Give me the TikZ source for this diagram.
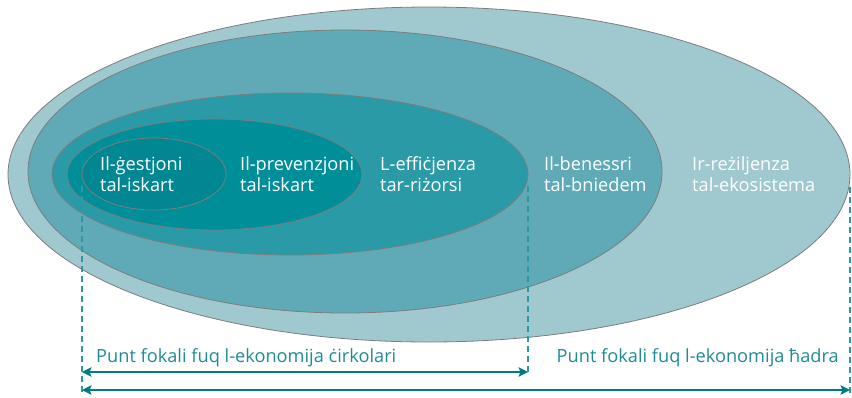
\documentclass[tikz,border=0pt]{standalone}
\usepackage{fontspec}
\setmainfont{Open Sans}
\usepackage{tikz}
\usetikzlibrary{
  arrows.meta,
  positioning,
  calc,
  shapes.geometric
}
\definecolor{resilteal}{RGB}{159,201,207}
\definecolor{wellteal}{RGB}{95,170,182}
\definecolor{efficteal}{RGB}{42,155,166}
\definecolor{preventeal}{RGB}{0,143,153}
\definecolor{wasteteal}{RGB}{0,135,145}
\definecolor{zoneedge}{RGB}{125,125,125}
\definecolor{focusteal}{RGB}{30,140,152}
\definecolor{arrowteal}{RGB}{0,122,132}
\definecolor{guideteal}{RGB}{45,152,163}
\tikzset{
  zone/.style={
    ellipse,
    draw=zoneedge,
    line width=0.8pt,
    inner sep=0pt,
    outer sep=0pt
  },
  zonelabel/.style={
    anchor=west,
    align=left,
    inner sep=0pt,
    text=white,
    font=\fontsize{18.2}{21.5}\selectfont
  },
  focuslabel/.style={inner sep=0pt,text=focusteal,font=\fontsize{18.2}{21.5}\selectfont},
  guideline/.style={draw=guideteal,line width=1.4pt,dash pattern=on 6pt off 4pt},
  focusarrow/.style={
    {Stealth[length=9.5pt,width=9.5pt,inset=2pt]}-{Stealth[length=9.5pt,width=9.5pt,inset=2pt]},
    line width=2.1pt,draw=arrowteal
  },
}

\begin{document}
\begin{tikzpicture}[x=1pt,y=-1pt]
  \useasboundingbox (0,0) rectangle (852,397);
  % Nested zones
  \node[zone,fill=resilteal,minimum width=842,minimum height=335] (resil) at (429,174.5) {};
  \node[zone,fill=wellteal,minimum width=634,minimum height=283] (well) at (345,171.5) {};
  \node[zone,fill=efficteal,minimum width=476,minimum height=162] (effic) at (290,174) {};
  \node[zone,fill=preventeal,minimum width=295,minimum height=111] (preven) at (214.5,174.5) {};
  \node[zone,fill=wasteteal,minimum width=144,minimum height=72] (waste) at (154,174) {};

  \node[zonelabel] (wastetxt) at (100,174) {Il-ġestjoni\\tal-iskart};
  \node[zonelabel] (preventxt) at (240,174) {Il-prevenzjoni\\tal-iskart};
  \node[zonelabel] (effictxt) at (380,174) {L-effiċjenza\\tar-riżorsi};
  \node[zonelabel] (welltxt) at (544,174) {Il-benessri\\tal-bniedem};
  \node[zonelabel] (resiltxt) at (692,174) {Ir-reżiljenza\\tal-ekosistema};

  % Focus ranges
  \coordinate (rowA) at (0,372);
  \coordinate (rowB) at (0,390);
  \coordinate (dashend) at (0,393);
  \draw[guideline] ([yshift=-12pt]waste.west) -- (waste.west |- dashend);
  \draw[guideline] ([yshift=-12pt]effic.east) -- (effic.east |- rowA);
  \draw[guideline] ([yshift=-12pt]resil.east) -- (resil.east |- dashend);
  \draw[focusarrow] (waste.west |- rowA) -- (effic.east |- rowA);
  \draw[focusarrow] (waste.west |- rowB) -- (resil.east |- rowB);
  \node[focuslabel,anchor=base west] (circtxt) at (96,362) {Punt fokali fuq l-ekonomija ċirkolari};
  \node[focuslabel,anchor=base east] (greentxt) at (839,362) {Punt fokali fuq l-ekonomija ħadra};
\end{tikzpicture}
\end{document}
